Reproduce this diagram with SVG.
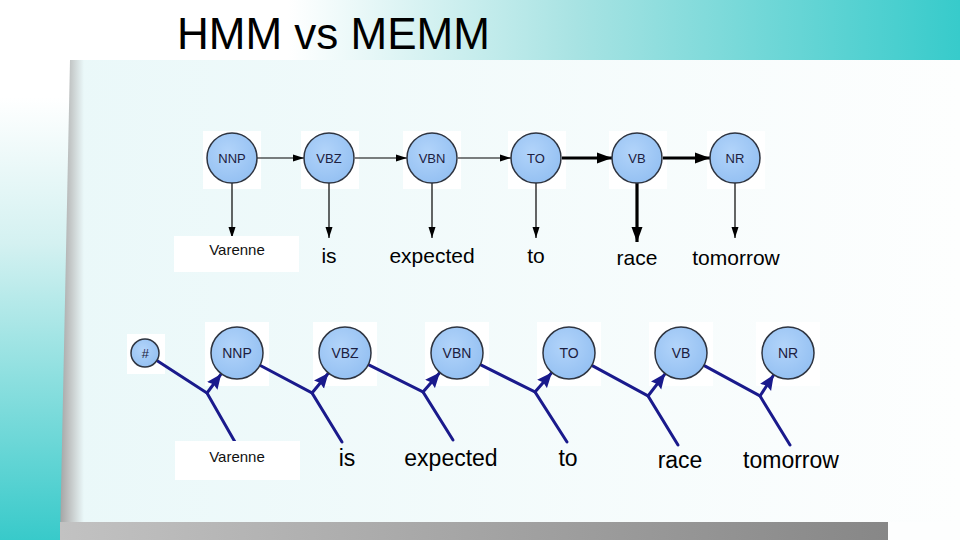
<svg xmlns="http://www.w3.org/2000/svg" width="960" height="540" viewBox="0 0 960 540">
<defs>
<linearGradient id="strip" x1="0" y1="0" x2="0" y2="1">
<stop offset="0" stop-color="#ffffff"/>
<stop offset="0.18" stop-color="#ffffff"/>
<stop offset="0.45" stop-color="#d4f1f1"/>
<stop offset="1" stop-color="#38caca"/>
</linearGradient>
<linearGradient id="banner" x1="0" y1="0" x2="1" y2="0">
<stop offset="0" stop-color="#ffffff"/>
<stop offset="0.3" stop-color="#ffffff"/>
<stop offset="0.6" stop-color="#a8e3e3"/>
<stop offset="1" stop-color="#37cbcb"/>
</linearGradient>
<linearGradient id="panel" x1="0" y1="0" x2="1" y2="0">
<stop offset="0" stop-color="#eaf8f9"/>
<stop offset="1" stop-color="#fdfefe"/>
</linearGradient>
<linearGradient id="edge" x1="0" y1="0" x2="1" y2="0">
<stop offset="0" stop-color="#a4a4a4"/>
<stop offset="0.45" stop-color="#c4c8c8"/>
<stop offset="1" stop-color="#eaf8f9"/>
</linearGradient>
<linearGradient id="bottom" x1="0" y1="0" x2="1" y2="0">
<stop offset="0" stop-color="#c2c2c2"/>
<stop offset="1" stop-color="#878787"/>
</linearGradient>
<radialGradient id="node" cx="0.42" cy="0.38" r="0.65">
<stop offset="0" stop-color="#b2d4fa"/>
<stop offset="1" stop-color="#94c0f2"/>
</radialGradient>
<marker id="aThin" markerUnits="userSpaceOnUse" markerWidth="12" markerHeight="10" viewBox="0 0 12 10" refX="11" refY="5" orient="auto">
<path d="M0,1.5 L11,5 L0,8.5 Z" fill="#000"/>
</marker>
<marker id="aThick" markerUnits="userSpaceOnUse" markerWidth="16" markerHeight="14" viewBox="0 0 16 14" refX="15" refY="7" orient="auto">
<path d="M0,1.5 L15,7 L0,12.5 Z" fill="#000"/>
</marker>
<marker id="aNavy" markerUnits="userSpaceOnUse" markerWidth="16" markerHeight="14" viewBox="0 0 16 14" refX="15" refY="7" orient="auto">
<path d="M0,0.5 L15,7 L0,13.5 L2,7 Z" fill="#1a1a8c"/>
</marker>
</defs>
<style>
.node circle{fill:url(#node);stroke:#2e3440;stroke-width:1.5}
.back{fill:#ffffff}
.lbl{font-family:"Liberation Sans",Arial,sans-serif;font-size:13px;fill:#1c2040;text-anchor:middle}
.lbl2{font-family:"Liberation Sans",Arial,sans-serif;font-size:14px;fill:#1c2040;text-anchor:middle}
.word{font-family:"Liberation Sans",Arial,sans-serif;font-size:21px;fill:#000;text-anchor:middle}
.word2{font-family:"Liberation Sans",Arial,sans-serif;font-size:23px;fill:#000;text-anchor:middle}
.small{font-family:"Liberation Sans",Arial,sans-serif;font-size:15px;fill:#111;text-anchor:middle}
.thin{stroke:#000;stroke-width:1.2;fill:none}
.thick{stroke:#000;stroke-width:3.2;fill:none}
.navy{stroke:#1a1a8c;stroke-width:3;fill:none;stroke-linecap:round}
</style>
<g id="background">
<rect x="0" y="0" width="960" height="540" fill="url(#strip)"/>
<rect x="0" y="0" width="960" height="60" fill="url(#banner)"/>
<rect x="72" y="60" width="888" height="480" fill="url(#panel)"/>
<polygon points="70,60 84,60 84,540 60,540" fill="url(#edge)"/>
<rect x="60" y="522" width="828" height="18" fill="url(#bottom)"/>
<rect x="888" y="522" width="72" height="18" fill="#fdfefe"/>
</g>
<text x="177" y="49" font-family="'Liberation Sans',Arial,sans-serif" font-size="44" fill="#000">HMM vs MEMM</text>
<g id="hmm-backdrops">
<rect class="back" x="203" y="131" width="58" height="58"/>
<rect class="back" x="301" y="131" width="58" height="58"/>
<rect class="back" x="403" y="131" width="58" height="58"/>
<rect class="back" x="508" y="131" width="58" height="58"/>
<rect class="back" x="609" y="131" width="58" height="58"/>
<rect class="back" x="707" y="131" width="58" height="58"/>
</g>
<g id="memm-backdrops">
<rect class="back" x="127" y="334" width="38" height="40"/>
<rect class="back" x="205" y="322" width="64" height="64"/>
<rect class="back" x="313" y="322" width="64" height="64"/>
<rect class="back" x="425" y="322" width="64" height="64"/>
<rect class="back" x="537" y="322" width="64" height="64"/>
<rect class="back" x="649" y="322" width="64" height="64"/>
<rect class="back" x="756" y="322" width="64" height="64"/>
</g>
<g id="connectors">
<line class="thin" x1="257" y1="158" x2="304" y2="158" marker-end="url(#aThin)"/>
<line class="thin" x1="355" y1="158" x2="407" y2="158" marker-end="url(#aThin)"/>
<line class="thin" x1="458" y1="158" x2="511" y2="158" marker-end="url(#aThin)"/>
<line class="thick" x1="562" y1="158" x2="612" y2="158" marker-end="url(#aThick)"/>
<line class="thick" x1="663" y1="158" x2="710" y2="158" marker-end="url(#aThick)"/>
<line class="thin" x1="232" y1="183" x2="232" y2="238" marker-end="url(#aThin)"/>
<line class="thin" x1="329" y1="183" x2="329" y2="238" marker-end="url(#aThin)"/>
<line class="thin" x1="432" y1="183" x2="432" y2="238" marker-end="url(#aThin)"/>
<line class="thin" x1="536" y1="183" x2="536" y2="238" marker-end="url(#aThin)"/>
<line class="thick" x1="637" y1="183" x2="637" y2="242" marker-end="url(#aThick)"/>
<line class="thin" x1="735" y1="183" x2="735" y2="238" marker-end="url(#aThin)"/>
<polyline class="navy" points="156.8,360.6 207,393 235,442"/>
<line class="navy" x1="207" y1="393" x2="221.2" y2="373.9" marker-end="url(#aNavy)"/>
<polyline class="navy" points="259.9,365.2 312,393 342,442"/>
<line class="navy" x1="312" y1="393" x2="328.5" y2="373" marker-end="url(#aNavy)"/>
<polyline class="navy" points="368.3,364.6 423,392 453,440"/>
<line class="navy" x1="423" y1="392" x2="439.9" y2="372.6" marker-end="url(#aNavy)"/>
<polyline class="navy" points="480.3,364.6 535,392 567,442"/>
<line class="navy" x1="535" y1="392" x2="551.9" y2="372.6" marker-end="url(#aNavy)"/>
<polyline class="navy" points="591.8,365.4 648,396 678,445"/>
<line class="navy" x1="648" y1="396" x2="665.2" y2="373.6" marker-end="url(#aNavy)"/>
<polyline class="navy" points="703.8,365.4 760,396 790,445"/>
<line class="navy" x1="760" y1="396" x2="773.8" y2="374.8" marker-end="url(#aNavy)"/>
</g>
<g id="hmm-NNP" class="node"><circle cx="232" cy="158" r="25"/><text class="lbl" x="232" y="163">NNP</text></g>
<g id="hmm-VBZ" class="node"><circle cx="329" cy="158" r="25"/><text class="lbl" x="329" y="163">VBZ</text></g>
<g id="hmm-VBN" class="node"><circle cx="432" cy="158" r="25"/><text class="lbl" x="432" y="163">VBN</text></g>
<g id="hmm-TO" class="node"><circle cx="536" cy="158" r="25"/><text class="lbl" x="536" y="163">TO</text></g>
<g id="hmm-VB" class="node"><circle cx="637" cy="158" r="25"/><text class="lbl" x="637" y="163">VB</text></g>
<g id="hmm-NR" class="node"><circle cx="735" cy="158" r="25"/><text class="lbl" x="735" y="163">NR</text></g>
<g id="hmm-words">
<rect class="back" x="174" y="236" width="125" height="36"/>
<text class="small" x="237" y="255">Varenne</text>
<text class="word" x="329" y="263">is</text>
<text class="word" x="432" y="263">expected</text>
<text class="word" x="536" y="263">to</text>
<text class="word" x="637" y="265">race</text>
<text class="word" x="736" y="265">tomorrow</text>
</g>
<g id="memm-hash" class="node"><circle cx="145" cy="353" r="14"/><text class="lbl" x="145" y="358" font-style="italic">#</text></g>
<g id="memm-NNP" class="node"><circle cx="237" cy="353" r="26"/><text class="lbl2" x="237" y="358">NNP</text></g>
<g id="memm-VBZ" class="node"><circle cx="345" cy="353" r="26"/><text class="lbl2" x="345" y="358">VBZ</text></g>
<g id="memm-VBN" class="node"><circle cx="457" cy="353" r="26"/><text class="lbl2" x="457" y="358">VBN</text></g>
<g id="memm-TO" class="node"><circle cx="569" cy="353" r="26"/><text class="lbl2" x="569" y="358">TO</text></g>
<g id="memm-VB" class="node"><circle cx="681" cy="353" r="26"/><text class="lbl2" x="681" y="358">VB</text></g>
<g id="memm-NR" class="node"><circle cx="788" cy="353" r="26"/><text class="lbl2" x="788" y="358">NR</text></g>
<g id="memm-words">
<rect class="back" x="175" y="441" width="125" height="39"/>
<text class="small" x="237" y="462">Varenne</text>
<text class="word2" x="347" y="466">is</text>
<text class="word2" x="451" y="466">expected</text>
<text class="word2" x="568" y="466">to</text>
<text class="word2" x="680" y="468">race</text>
<text class="word2" x="791" y="468">tomorrow</text>
</g>
</svg>
